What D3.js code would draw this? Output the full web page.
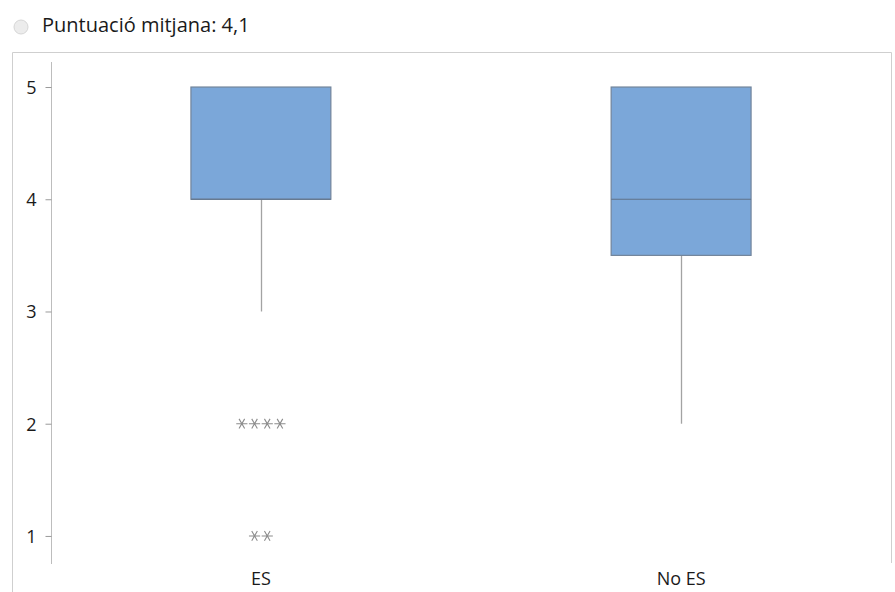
<!DOCTYPE html>
<html>
<head>
<meta charset="utf-8">
<script src="https://cdn.jsdelivr.net/npm/d3@7"></script>
<style>
  html, body { margin: 0; padding: 0; background: #fff; }
  svg { display: block; font-family: "Open Sans", "Noto Sans", sans-serif; }
</style>
</head>
<body>
<svg id="chart" width="895" height="592"></svg>
<script>
// Box plot summaries per group
const categories = ["ES", "No ES"];
const q1 = [4, 3.5];
const median = [4, 4];
const q3 = [5, 5];
const whiskerLow = [3, 2];
const whiskerHigh = [5, 5];
// Outlier values per group
const outliers = [[2, 2, 2, 2, 1, 1], []];
const yTicks = [1, 2, 3, 4, 5];
const title = "Puntuació mitjana: 4,1";

const svg = d3.select("#chart");

// Header with a radio-style dot
svg.append("circle")
  .attr("cx", 21).attr("cy", 27).attr("r", 7)
  .attr("fill", "#ececec").attr("stroke", "#d6d6d6").attr("stroke-width", 1);
svg.append("text")
  .attr("x", 42).attr("y", 32)
  .attr("font-size", 20).attr("fill", "#1a1a1a")
  .text(title);

// Panel frame
svg.append("path")
  .attr("d", "M12.5,592 V52.5 H891.5 V563")
  .attr("fill", "none").attr("stroke", "#cfcfcf").attr("stroke-width", 1);

const y = d3.scaleLinear().domain([0.75, 5.223]).range([564, 62]);
const x = d3.scaleBand().domain(categories).range([51, 891]).paddingInner(0.667).paddingOuter(0.333);

// Y axis
const yAxis = d3.axisLeft(y).tickValues(yTicks).tickSize(6).tickPadding(9).tickFormat(d3.format("d"));
const gy = svg.append("g").attr("transform", "translate(51.5,0)").call(yAxis);
gy.select(".domain").attr("d", `M0,${y.range()[0]}V${y.range()[1]}`).attr("stroke", "#bdbdbd");
gy.selectAll(".tick line").attr("stroke", "#9a9a9a");
gy.selectAll(".tick text").attr("font-size", 18).attr("fill", "#1a1a1a")
  .attr("font-family", "'Open Sans', sans-serif").attr("dy", "0.35em");

// X axis labels
const gx = svg.append("g").attr("transform", "translate(0,564)")
  .call(d3.axisBottom(x).tickSize(0).tickPadding(8));
gx.select(".domain").remove();
gx.selectAll(".tick text").attr("font-size", 18).attr("fill", "#1a1a1a")
  .attr("font-family", "'Open Sans', sans-serif");

const groups = svg.append("g").selectAll("g")
  .data(categories.map((c, i) => ({ c, i })))
  .join("g");

const cx = d => x(d.c) + x.bandwidth() / 2;

// Whiskers
groups.append("line")
  .attr("x1", d => Math.round(cx(d)) + 0.5).attr("x2", d => Math.round(cx(d)) + 0.5)
  .attr("y1", d => y(whiskerLow[d.i])).attr("y2", d => y(q1[d.i]))
  .attr("stroke", "#a3a3a3").attr("stroke-width", 1.3);
groups.append("line")
  .attr("x1", d => Math.round(cx(d)) + 0.5).attr("x2", d => Math.round(cx(d)) + 0.5)
  .attr("y1", d => y(whiskerHigh[d.i])).attr("y2", d => y(q3[d.i]))
  .attr("stroke", "#a3a3a3").attr("stroke-width", 1.3);

// Boxes
groups.append("rect")
  .attr("x", d => x(d.c)).attr("width", x.bandwidth())
  .attr("y", d => y(q3[d.i])).attr("height", d => y(q1[d.i]) - y(q3[d.i]))
  .attr("fill", "#7ba7d9").attr("stroke", "#72849a").attr("stroke-width", 1.2);

// Medians
groups.append("line")
  .attr("x1", d => x(d.c)).attr("x2", d => x(d.c) + x.bandwidth())
  .attr("y1", d => y(median[d.i])).attr("y2", d => y(median[d.i]))
  .attr("stroke", "#5f7288").attr("stroke-width", 1.2);

// Outliers as asterisks, duplicates spread side by side
const star = d3.symbol().type(d3.symbolAsterisk).size(88);
groups.each(function (d) {
  const counts = d3.rollup(outliers[d.i], v => v.length, v => v);
  const pts = [];
  counts.forEach((n, val) => {
    for (let k = 0; k < n; k++) pts.push({ val, off: (k - (n - 1) / 2) * 12.7 });
  });
  d3.select(this).selectAll("path.out").data(pts).join("path")
    .attr("class", "out")
    .attr("d", star)
    .attr("transform", p => `translate(${cx(d) + p.off},${y(p.val)}) rotate(90)`)
    .attr("fill", "none").attr("stroke", "#8c8c8c").attr("stroke-width", 1.1);
});
</script>
</body>
</html>
